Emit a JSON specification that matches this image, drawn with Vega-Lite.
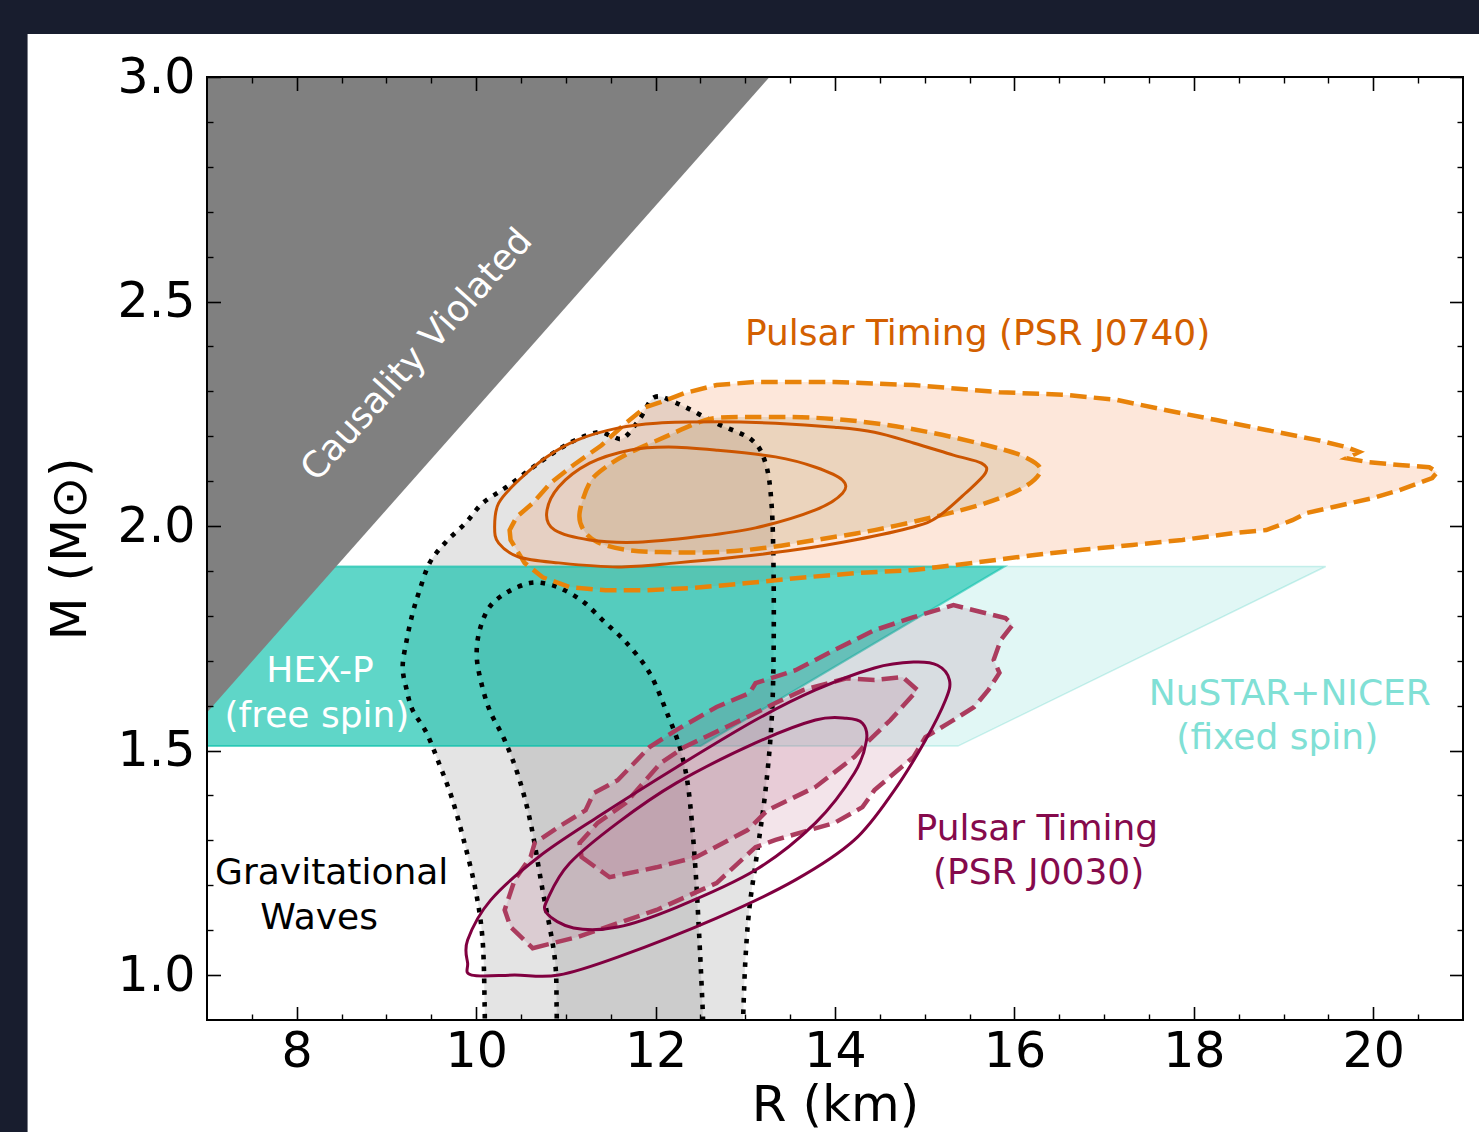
{
  "$schema": "https://vega.github.io/schema/vega-lite/v6.json",
  "width": 1256,
  "height": 943,
  "autosize": {"type": "none"},
  "padding": {"left": 207, "top": 77, "right": 16, "bottom": 112},
  "background": "#181d2e",
  "config": {"view": {"stroke": null}, "font": "DejaVu Sans"},
  "resolve": {"axis": {"x": "independent", "y": "independent"}},
  "datasets": {
    "gwo": [{"r":10.095,"m":0.851},{"r":10.095,"m":0.929},{"r":10.072,"m":1.078},{"r":9.994,"m":1.189},{"r":9.861,"m":1.301},{"r":9.727,"m":1.396},{"r":9.593,"m":1.468},{"r":9.448,"m":1.539},{"r":9.292,"m":1.590},{"r":9.226,"m":1.635},{"r":9.181,"m":1.686},{"r":9.226,"m":1.746},{"r":9.292,"m":1.806},{"r":9.370,"m":1.857},{"r":9.482,"m":1.918},{"r":9.660,"m":1.964},{"r":9.883,"m":2.007},{"r":10.072,"m":2.051},{"r":10.340,"m":2.087},{"r":10.696,"m":2.140},{"r":11.042,"m":2.185},{"r":11.354,"m":2.209},{"r":11.510,"m":2.200},{"r":11.643,"m":2.196},{"r":11.822,"m":2.238},{"r":11.989,"m":2.287},{"r":12.234,"m":2.274},{"r":12.680,"m":2.229},{"r":13.070,"m":2.192},{"r":13.226,"m":2.140},{"r":13.292,"m":2.051},{"r":13.315,"m":1.902},{"r":13.315,"m":1.708},{"r":13.292,"m":1.561},{"r":13.226,"m":1.412},{"r":13.136,"m":1.278},{"r":13.047,"m":1.151},{"r":13.003,"m":1.040},{"r":12.980,"m":0.929},{"r":12.969,"m":0.851}],
    "gwi": [{"r":10.897,"m":0.851},{"r":10.897,"m":0.929},{"r":10.875,"m":1.040},{"r":10.741,"m":1.189},{"r":10.607,"m":1.339},{"r":10.474,"m":1.441},{"r":10.318,"m":1.523},{"r":10.150,"m":1.590},{"r":10.050,"m":1.657},{"r":10.006,"m":1.713},{"r":10.039,"m":1.768},{"r":10.150,"m":1.820},{"r":10.351,"m":1.853},{"r":10.596,"m":1.873},{"r":10.797,"m":1.871},{"r":10.986,"m":1.857},{"r":11.209,"m":1.829},{"r":11.432,"m":1.786},{"r":11.666,"m":1.742},{"r":11.933,"m":1.673},{"r":12.145,"m":1.575},{"r":12.279,"m":1.501},{"r":12.368,"m":1.412},{"r":12.435,"m":1.263},{"r":12.479,"m":1.116},{"r":12.524,"m":0.929},{"r":12.535,"m":0.851}],
    "j7do": [{"r":10.373,"m":1.991},{"r":10.384,"m":1.969},{"r":10.540,"m":1.918},{"r":10.741,"m":1.886},{"r":11.042,"m":1.864},{"r":11.443,"m":1.857},{"r":11.889,"m":1.857},{"r":12.412,"m":1.862},{"r":13.025,"m":1.873},{"r":13.560,"m":1.884},{"r":14.217,"m":1.895},{"r":14.875,"m":1.902},{"r":15.543,"m":1.918},{"r":16.201,"m":1.935},{"r":16.758,"m":1.947},{"r":17.315,"m":1.958},{"r":17.872,"m":1.969},{"r":18.429,"m":1.984},{"r":18.808,"m":1.991},{"r":19.098,"m":2.013},{"r":19.254,"m":2.029},{"r":19.543,"m":2.042},{"r":19.989,"m":2.062},{"r":20.290,"m":2.080},{"r":20.657,"m":2.107},{"r":20.713,"m":2.120},{"r":20.624,"m":2.131},{"r":20.290,"m":2.136},{"r":19.922,"m":2.143},{"r":19.699,"m":2.151},{"r":19.844,"m":2.165},{"r":19.699,"m":2.176},{"r":19.365,"m":2.192},{"r":18.808,"m":2.214},{"r":18.251,"m":2.236},{"r":17.694,"m":2.258},{"r":17.137,"m":2.281},{"r":16.579,"m":2.292},{"r":15.833,"m":2.298},{"r":14.875,"m":2.314},{"r":13.994,"m":2.321},{"r":13.114,"m":2.321},{"r":12.680,"m":2.314},{"r":12.323,"m":2.296},{"r":12.056,"m":2.276},{"r":11.889,"m":2.265},{"r":11.666,"m":2.229},{"r":11.398,"m":2.180},{"r":11.086,"m":2.136},{"r":10.830,"m":2.096},{"r":10.630,"m":2.051},{"r":10.451,"m":2.020}],
    "j7di": [{"r":11.265,"m":2.096},{"r":11.153,"m":2.029},{"r":11.198,"m":1.991},{"r":11.354,"m":1.964},{"r":11.666,"m":1.947},{"r":12.056,"m":1.942},{"r":12.680,"m":1.942},{"r":13.203,"m":1.951},{"r":13.783,"m":1.969},{"r":14.440,"m":1.991},{"r":15.097,"m":2.020},{"r":15.677,"m":2.051},{"r":16.111,"m":2.087},{"r":16.290,"m":2.125},{"r":16.111,"m":2.154},{"r":15.766,"m":2.176},{"r":15.097,"m":2.207},{"r":14.440,"m":2.229},{"r":13.783,"m":2.241},{"r":13.114,"m":2.243},{"r":12.680,"m":2.241},{"r":12.457,"m":2.229},{"r":12.100,"m":2.198},{"r":11.710,"m":2.163},{"r":11.443,"m":2.131}],
    "j7so": [{"r":10.206,"m":1.998},{"r":10.251,"m":1.962},{"r":10.474,"m":1.931},{"r":10.919,"m":1.918},{"r":11.577,"m":1.909},{"r":12.234,"m":1.918},{"r":12.903,"m":1.931},{"r":13.560,"m":1.947},{"r":14.217,"m":1.969},{"r":14.875,"m":1.998},{"r":15.142,"m":2.020},{"r":15.454,"m":2.073},{"r":15.677,"m":2.118},{"r":15.632,"m":2.140},{"r":15.320,"m":2.158},{"r":14.875,"m":2.185},{"r":14.440,"m":2.209},{"r":13.994,"m":2.220},{"r":13.337,"m":2.229},{"r":12.680,"m":2.232},{"r":12.011,"m":2.229},{"r":11.577,"m":2.218},{"r":11.131,"m":2.192},{"r":10.786,"m":2.154},{"r":10.474,"m":2.102},{"r":10.251,"m":2.051}],
    "j7si": [{"r":10.786,"m":2.029},{"r":10.875,"m":1.991},{"r":11.265,"m":1.969},{"r":11.799,"m":1.964},{"r":12.457,"m":1.976},{"r":13.114,"m":1.996},{"r":13.783,"m":2.036},{"r":14.084,"m":2.073},{"r":14.084,"m":2.102},{"r":13.783,"m":2.131},{"r":13.337,"m":2.154},{"r":12.680,"m":2.169},{"r":12.145,"m":2.176},{"r":11.710,"m":2.169},{"r":11.265,"m":2.140},{"r":10.919,"m":2.087}],
    "j3so": [{"r":9.950,"m":1.0},{"r":10.43,"m":1.0},{"r":10.919,"m":1.0},{"r":11.577,"m":1.040},{"r":12.680,"m":1.127},{"r":13.560,"m":1.212},{"r":14.217,"m":1.301},{"r":14.663,"m":1.412},{"r":15.008,"m":1.523},{"r":15.231,"m":1.612},{"r":15.276,"m":1.657},{"r":15.142,"m":1.690},{"r":14.875,"m":1.697},{"r":14.440,"m":1.684},{"r":13.783,"m":1.635},{"r":13.114,"m":1.568},{"r":12.234,"m":1.463},{"r":11.354,"m":1.352},{"r":10.696,"m":1.263},{"r":10.162,"m":1.167},{"r":9.905,"m":1.078},{"r":9.905,"m":1.027}],
    "j3si": [{"r":10.786,"m":1.138},{"r":11.086,"m":1.105},{"r":11.577,"m":1.107},{"r":12.234,"m":1.151},{"r":13.114,"m":1.234},{"r":13.783,"m":1.339},{"r":14.217,"m":1.450},{"r":14.351,"m":1.523},{"r":14.306,"m":1.561},{"r":14.128,"m":1.572},{"r":13.783,"m":1.568},{"r":13.114,"m":1.517},{"r":12.234,"m":1.428},{"r":11.577,"m":1.339},{"r":11.042,"m":1.249},{"r":10.808,"m":1.174}],
    "j3do": [{"r":10.630,"m":1.060},{"r":11.131,"m":1.085},{"r":12.011,"m":1.145},{"r":12.680,"m":1.205},{"r":13.114,"m":1.285},{"r":13.337,"m":1.301},{"r":13.994,"m":1.339},{"r":14.306,"m":1.374},{"r":14.440,"m":1.412},{"r":14.875,"m":1.486},{"r":15.008,"m":1.530},{"r":15.265,"m":1.561},{"r":15.552,"m":1.597},{"r":15.710,"m":1.635},{"r":15.833,"m":1.673},{"r":15.769,"m":1.702},{"r":15.847,"m":1.746},{"r":15.979,"m":1.780},{"r":15.900,"m":1.795},{"r":15.320,"m":1.824},{"r":14.875,"m":1.797},{"r":14.440,"m":1.768},{"r":13.994,"m":1.724},{"r":13.560,"m":1.679},{"r":13.114,"m":1.650},{"r":13.047,"m":1.628},{"r":12.680,"m":1.597},{"r":12.234,"m":1.546},{"r":11.933,"m":1.508},{"r":11.577,"m":1.434},{"r":11.309,"m":1.405},{"r":11.220,"m":1.367},{"r":10.919,"m":1.330},{"r":10.652,"m":1.294},{"r":10.607,"m":1.263},{"r":10.429,"m":1.212},{"r":10.318,"m":1.145},{"r":10.384,"m":1.107}],
    "j3di": [{"r":11.175,"m":1.263},{"r":11.487,"m":1.218},{"r":12.011,"m":1.240},{"r":12.457,"m":1.263},{"r":13.025,"m":1.323},{"r":13.248,"m":1.367},{"r":13.783,"m":1.419},{"r":14.217,"m":1.486},{"r":14.351,"m":1.517},{"r":14.618,"m":1.568},{"r":14.919,"m":1.635},{"r":14.752,"m":1.664},{"r":14.440,"m":1.657},{"r":14.128,"m":1.661},{"r":13.649,"m":1.635},{"r":13.337,"m":1.606},{"r":13.025,"m":1.575},{"r":12.323,"m":1.508},{"r":12.056,"m":1.472},{"r":11.666,"m":1.383},{"r":11.354,"m":1.339},{"r":11.153,"m":1.294}],
    "caus": [{"r":7.0,"m":3.0},{"r":13.27,"m":3.0},{"r":7.0,"m":1.585}],
    "hexp": [{"r":7.0,"m":1.51},{"r":7.0,"m":1.91},{"r":15.89,"m":1.91},{"r":12.50,"m":1.51}],
    "nust": [{"r":7.0,"m":1.51},{"r":7.0,"m":1.91},{"r":19.47,"m":1.91},{"r":15.37,"m":1.51}],
    "labels": [
      {"t":"Pulsar Timing (PSR J0740)","r":15.59,"m":2.428,"g":"j0740"},
      {"t":"HEX-P","r":8.26,"m":1.677,"g":"hex"},
      {"t":"(free spin)","r":8.225,"m":1.577,"g":"hex"},
      {"t":"NuSTAR+NICER","r":19.07,"m":1.627,"g":"nustar"},
      {"t":"(fixed spin)","r":18.93,"m":1.528,"g":"nustar"},
      {"t":"Pulsar Timing","r":16.25,"m":1.325,"g":"j0030"},
      {"t":"(PSR J0030)","r":16.27,"m":1.227,"g":"j0030"},
      {"t":"Gravitational","r":8.39,"m":1.227,"g":"gw"},
      {"t":"Waves","r":8.25,"m":1.127,"g":"gw"}
    ],
    "caustext": [{"t":"Causality Violated","r":9.34,"m":2.381}]
  },
  "layer": [
    {
      "data": {"values": [{}]},
      "mark": {"type": "rect", "fill": "white", "clip": false},
      "encoding": {
        "x": {"datum": 5.0, "type": "quantitative", "scale": {"domain": [7, 21], "nice": false, "zero": false}, "axis": null},
        "x2": {"datum": 22},
        "y": {"datum": 3.096, "type": "quantitative", "scale": {"domain": [0.9, 3.0], "nice": false, "zero": false}, "axis": null},
        "y2": {"datum": 0.5}
      }
    },
    {
      "data": {"name": "gwo"},
      "mark": {"type": "line", "interpolate": "cardinal", "fill": "#000000", "fillOpacity": 0.105, "strokeWidth": 0, "strokeOpacity": 0, "clip": true},
      "encoding": {
        "x": {"field": "r", "type": "quantitative", "scale": {"domain": [7, 21], "nice": false, "zero": false},
          "axis": {"orient": "bottom", "values": [8, 10, 12, 14, 16, 18, 20], "ticks": false, "domain": false, "grid": false, "labelFontSize": 49, "labelFont": "DejaVu Sans", "labelColor": "black", "labelPadding": 7, "labelFlush": false, "labelOverlap": false, "title": "R (km)", "titleFontSize": 50, "titleFont": "DejaVu Sans", "titleFontWeight": "normal", "titleColor": "black", "titlePadding": 4, "zindex": 1}},
        "y": {"field": "m", "type": "quantitative", "scale": {"domain": [0.9, 3.0], "nice": false, "zero": false},
          "axis": {"orient": "left", "values": [1.0, 1.5, 2.0, 2.5, 3.0], "format": ".1f", "ticks": false, "domain": false, "grid": false, "labelFontSize": 49, "labelFont": "DejaVu Sans", "labelColor": "black", "labelPadding": 12, "labelFlush": false, "labelOverlap": false, "title": "M (M⊙)", "titleFontSize": 50, "titleFont": "DejaVu Sans", "titleFontWeight": "normal", "titleColor": "black", "titlePadding": 22, "zindex": 1}},
        "order": {"value": null}
      }
    },
    {
      "data": {"name": "gwi"},
      "mark": {"type": "line", "interpolate": "cardinal", "fill": "#000000", "fillOpacity": 0.1, "strokeWidth": 0, "strokeOpacity": 0, "clip": true},
      "encoding": {
        "x": {"field": "r", "type": "quantitative", "scale": {"domain": [7, 21], "nice": false, "zero": false},
          "axis": {"orient": "bottom", "values": [8, 10, 12, 14, 16, 18, 20], "labels": false, "domain": false, "grid": false, "ticks": true, "tickSize": -13.5, "tickWidth": 1.6, "tickColor": "black", "title": null, "zindex": 1}},
        "y": {"field": "m", "type": "quantitative", "scale": {"domain": [0.9, 3.0], "nice": false, "zero": false},
          "axis": {"orient": "left", "values": [1.0, 1.5, 2.0, 2.5, 3.0], "labels": false, "domain": false, "grid": false, "ticks": true, "tickSize": -13.5, "tickWidth": 1.6, "tickColor": "black", "title": null, "zindex": 1}},
        "order": {"value": null}
      }
    },
    {
      "data": {"name": "j7do"},
      "mark": {"type": "line", "interpolate": "linear-closed", "fill": "#f26a1b", "fillOpacity": 0.16, "strokeWidth": 0, "strokeOpacity": 0, "clip": true},
      "encoding": {
        "x": {"field": "r", "type": "quantitative", "scale": {"domain": [7, 21], "nice": false, "zero": false},
          "axis": {"orient": "bottom", "values": [7.5, 8.5, 9, 9.5, 10.5, 11, 11.5, 12.5, 13, 13.5, 14.5, 15, 15.5, 16.5, 17, 17.5, 18.5, 19, 19.5, 20.5], "labels": false, "domain": false, "grid": false, "ticks": true, "tickSize": -6, "tickWidth": 1.4, "tickColor": "black", "title": null, "zindex": 1}},
        "y": {"field": "m", "type": "quantitative", "scale": {"domain": [0.9, 3.0], "nice": false, "zero": false},
          "axis": {"orient": "left", "values": [1.1, 1.2, 1.3, 1.4, 1.6, 1.7, 1.8, 1.9, 2.1, 2.2, 2.3, 2.4, 2.6, 2.7, 2.8, 2.9], "labels": false, "domain": false, "grid": false, "ticks": true, "tickSize": -6, "tickWidth": 1.4, "tickColor": "black", "title": null, "zindex": 1}},
        "order": {"value": null}
      }
    },
    {
      "data": {"name": "j7di"},
      "mark": {"type": "line", "interpolate": "cardinal-closed", "fill": "#8c6e28", "fillOpacity": 0.16, "strokeWidth": 0, "strokeOpacity": 0, "clip": true},
      "encoding": {
        "x": {"field": "r", "type": "quantitative", "scale": {"domain": [7, 21], "nice": false, "zero": false},
          "axis": {"orient": "top", "values": [8, 10, 12, 14, 16, 18, 20], "labels": false, "domain": false, "grid": false, "ticks": true, "tickSize": -13.5, "tickWidth": 1.6, "tickColor": "black", "title": null, "zindex": 1}},
        "y": {"field": "m", "type": "quantitative", "scale": {"domain": [0.9, 3.0], "nice": false, "zero": false},
          "axis": {"orient": "right", "values": [1.0, 1.5, 2.0, 2.5, 3.0], "labels": false, "domain": false, "grid": false, "ticks": true, "tickSize": -13.5, "tickWidth": 1.6, "tickColor": "black", "title": null, "zindex": 1}},
        "order": {"value": null}
      }
    },
    {
      "data": {"name": "nust"},
      "mark": {"type": "line", "interpolate": "linear-closed", "fill": "#08c0aa", "fillOpacity": 0.12, "stroke": "#08c0aa", "strokeOpacity": 0.2, "strokeWidth": 1.5, "clip": true},
      "encoding": {
        "x": {"field": "r", "type": "quantitative", "scale": {"domain": [7, 21], "nice": false, "zero": false},
          "axis": {"orient": "top", "values": [7.5, 8.5, 9, 9.5, 10.5, 11, 11.5, 12.5, 13, 13.5, 14.5, 15, 15.5, 16.5, 17, 17.5, 18.5, 19, 19.5, 20.5], "labels": false, "domain": false, "grid": false, "ticks": true, "tickSize": -6, "tickWidth": 1.4, "tickColor": "black", "title": null, "zindex": 1}},
        "y": {"field": "m", "type": "quantitative", "scale": {"domain": [0.9, 3.0], "nice": false, "zero": false},
          "axis": {"orient": "right", "values": [1.1, 1.2, 1.3, 1.4, 1.6, 1.7, 1.8, 1.9, 2.1, 2.2, 2.3, 2.4, 2.6, 2.7, 2.8, 2.9], "labels": false, "domain": false, "grid": false, "ticks": true, "tickSize": -6, "tickWidth": 1.4, "tickColor": "black", "title": null, "zindex": 1}},
        "order": {"value": null}
      }
    },
    {
      "data": {"name": "hexp"},
      "mark": {"type": "line", "interpolate": "linear-closed", "fill": "#08c0aa", "fillOpacity": 0.6, "stroke": "#08c0aa", "strokeOpacity": 0.55, "strokeWidth": 2, "clip": true},
      "encoding": {
        "x": {"field": "r", "type": "quantitative", "scale": {"domain": [7, 21], "nice": false, "zero": false}, "axis": null},
        "y": {"field": "m", "type": "quantitative", "scale": {"domain": [0.9, 3.0], "nice": false, "zero": false}, "axis": null},
        "order": {"value": null}
      }
    },
    {
      "data": {"name": "caus"},
      "mark": {"type": "line", "interpolate": "linear-closed", "fill": "#808080", "fillOpacity": 1, "strokeWidth": 0, "strokeOpacity": 0, "clip": true},
      "encoding": {
        "x": {"field": "r", "type": "quantitative", "scale": {"domain": [7, 21], "nice": false, "zero": false}, "axis": null},
        "y": {"field": "m", "type": "quantitative", "scale": {"domain": [0.9, 3.0], "nice": false, "zero": false}, "axis": null},
        "order": {"value": null}
      }
    },
    {
      "data": {"name": "j3do"},
      "mark": {"type": "line", "interpolate": "linear-closed", "fill": "#a01e50", "fillOpacity": 0.12, "strokeWidth": 0, "strokeOpacity": 0, "clip": true},
      "encoding": {
        "x": {"field": "r", "type": "quantitative", "scale": {"domain": [7, 21], "nice": false, "zero": false}, "axis": null},
        "y": {"field": "m", "type": "quantitative", "scale": {"domain": [0.9, 3.0], "nice": false, "zero": false}, "axis": null},
        "order": {"value": null}
      }
    },
    {
      "data": {"name": "j3di"},
      "mark": {"type": "line", "interpolate": "linear-closed", "fill": "#a01e50", "fillOpacity": 0.12, "strokeWidth": 0, "strokeOpacity": 0, "clip": true},
      "encoding": {
        "x": {"field": "r", "type": "quantitative", "scale": {"domain": [7, 21], "nice": false, "zero": false}, "axis": null},
        "y": {"field": "m", "type": "quantitative", "scale": {"domain": [0.9, 3.0], "nice": false, "zero": false}, "axis": null},
        "order": {"value": null}
      }
    },
    {
      "data": {"name": "gwo"},
      "mark": {"type": "line", "interpolate": "cardinal", "stroke": "#000000", "strokeWidth": 4.6, "strokeDash": [4.6, 7.2], "strokeCap": "butt", "clip": true},
      "encoding": {
        "x": {"field": "r", "type": "quantitative", "scale": {"domain": [7, 21], "nice": false, "zero": false}, "axis": null},
        "y": {"field": "m", "type": "quantitative", "scale": {"domain": [0.9, 3.0], "nice": false, "zero": false}, "axis": null},
        "order": {"value": null}
      }
    },
    {
      "data": {"name": "gwi"},
      "mark": {"type": "line", "interpolate": "cardinal", "stroke": "#000000", "strokeWidth": 4.6, "strokeDash": [4.6, 7.2], "strokeCap": "butt", "clip": true},
      "encoding": {
        "x": {"field": "r", "type": "quantitative", "scale": {"domain": [7, 21], "nice": false, "zero": false}, "axis": null},
        "y": {"field": "m", "type": "quantitative", "scale": {"domain": [0.9, 3.0], "nice": false, "zero": false}, "axis": null},
        "order": {"value": null}
      }
    },
    {
      "data": {"name": "j7do"},
      "mark": {"type": "line", "interpolate": "linear-closed", "stroke": "#e8830a", "strokeWidth": 4.5, "strokeDash": [16.6, 7.2], "strokeCap": "butt", "clip": true},
      "encoding": {
        "x": {"field": "r", "type": "quantitative", "scale": {"domain": [7, 21], "nice": false, "zero": false}, "axis": null},
        "y": {"field": "m", "type": "quantitative", "scale": {"domain": [0.9, 3.0], "nice": false, "zero": false}, "axis": null},
        "order": {"value": null}
      }
    },
    {
      "data": {"name": "j7di"},
      "mark": {"type": "line", "interpolate": "cardinal-closed", "stroke": "#e8830a", "strokeWidth": 4.5, "strokeDash": [16.6, 7.2], "strokeCap": "butt", "clip": true},
      "encoding": {
        "x": {"field": "r", "type": "quantitative", "scale": {"domain": [7, 21], "nice": false, "zero": false}, "axis": null},
        "y": {"field": "m", "type": "quantitative", "scale": {"domain": [0.9, 3.0], "nice": false, "zero": false}, "axis": null},
        "order": {"value": null}
      }
    },
    {
      "data": {"name": "j7so"},
      "mark": {"type": "line", "interpolate": "cardinal-closed", "stroke": "#cc5500", "strokeWidth": 3, "clip": true},
      "encoding": {
        "x": {"field": "r", "type": "quantitative", "scale": {"domain": [7, 21], "nice": false, "zero": false}, "axis": null},
        "y": {"field": "m", "type": "quantitative", "scale": {"domain": [0.9, 3.0], "nice": false, "zero": false}, "axis": null},
        "order": {"value": null}
      }
    },
    {
      "data": {"name": "j7si"},
      "mark": {"type": "line", "interpolate": "cardinal-closed", "stroke": "#cc5500", "strokeWidth": 3, "clip": true},
      "encoding": {
        "x": {"field": "r", "type": "quantitative", "scale": {"domain": [7, 21], "nice": false, "zero": false}, "axis": null},
        "y": {"field": "m", "type": "quantitative", "scale": {"domain": [0.9, 3.0], "nice": false, "zero": false}, "axis": null},
        "order": {"value": null}
      }
    },
    {
      "data": {"name": "j3do"},
      "mark": {"type": "line", "interpolate": "linear-closed", "stroke": "#ab3c5e", "strokeWidth": 4.5, "strokeDash": [16.6, 7.2], "strokeCap": "butt", "clip": true},
      "encoding": {
        "x": {"field": "r", "type": "quantitative", "scale": {"domain": [7, 21], "nice": false, "zero": false}, "axis": null},
        "y": {"field": "m", "type": "quantitative", "scale": {"domain": [0.9, 3.0], "nice": false, "zero": false}, "axis": null},
        "order": {"value": null}
      }
    },
    {
      "data": {"name": "j3di"},
      "mark": {"type": "line", "interpolate": "linear-closed", "stroke": "#ab3c5e", "strokeWidth": 4.5, "strokeDash": [16.6, 7.2], "strokeCap": "butt", "clip": true},
      "encoding": {
        "x": {"field": "r", "type": "quantitative", "scale": {"domain": [7, 21], "nice": false, "zero": false}, "axis": null},
        "y": {"field": "m", "type": "quantitative", "scale": {"domain": [0.9, 3.0], "nice": false, "zero": false}, "axis": null},
        "order": {"value": null}
      }
    },
    {
      "data": {"name": "j3so"},
      "mark": {"type": "line", "interpolate": "cardinal-closed", "stroke": "#800040", "strokeWidth": 3, "clip": true},
      "encoding": {
        "x": {"field": "r", "type": "quantitative", "scale": {"domain": [7, 21], "nice": false, "zero": false}, "axis": null},
        "y": {"field": "m", "type": "quantitative", "scale": {"domain": [0.9, 3.0], "nice": false, "zero": false}, "axis": null},
        "order": {"value": null}
      }
    },
    {
      "data": {"name": "j3si"},
      "mark": {"type": "line", "interpolate": "cardinal-closed", "stroke": "#800040", "strokeWidth": 3, "clip": true},
      "encoding": {
        "x": {"field": "r", "type": "quantitative", "scale": {"domain": [7, 21], "nice": false, "zero": false}, "axis": null},
        "y": {"field": "m", "type": "quantitative", "scale": {"domain": [0.9, 3.0], "nice": false, "zero": false}, "axis": null},
        "order": {"value": null}
      }
    },
    {
      "data": {"name": "labels"},
      "mark": {"type": "text", "fontSize": 36, "font": "DejaVu Sans", "align": "center", "baseline": "middle"},
      "encoding": {
        "x": {"field": "r", "type": "quantitative", "scale": {"domain": [7, 21], "nice": false, "zero": false}, "axis": null},
        "y": {"field": "m", "type": "quantitative", "scale": {"domain": [0.9, 3.0], "nice": false, "zero": false}, "axis": null},
        "text": {"field": "t"},
        "color": {"field": "g", "type": "nominal", "scale": {"domain": ["j0740", "hex", "nustar", "j0030", "gw"], "range": ["#d35f00", "#ffffff", "#80e0d5", "#850a4c", "#000000"]}, "legend": null}
      }
    },
    {
      "data": {"name": "caustext"},
      "mark": {"type": "text", "fontSize": 36, "font": "DejaVu Sans", "align": "center", "baseline": "middle", "angle": -48, "color": "#ffffff"},
      "encoding": {
        "x": {"field": "r", "type": "quantitative", "scale": {"domain": [7, 21], "nice": false, "zero": false}, "axis": null},
        "y": {"field": "m", "type": "quantitative", "scale": {"domain": [0.9, 3.0], "nice": false, "zero": false}, "axis": null},
        "text": {"field": "t"}
      }
    },
    {
      "data": {"values": [{}]},
      "mark": {"type": "rect", "fillOpacity": 0, "stroke": "#000000", "strokeWidth": 2, "clip": false},
      "encoding": {
        "x": {"datum": 7, "type": "quantitative", "scale": {"domain": [7, 21], "nice": false, "zero": false}, "axis": null},
        "x2": {"datum": 21},
        "y": {"datum": 0.9, "type": "quantitative", "scale": {"domain": [0.9, 3.0], "nice": false, "zero": false}, "axis": null},
        "y2": {"datum": 3.0}
      }
    }
  ]
}
